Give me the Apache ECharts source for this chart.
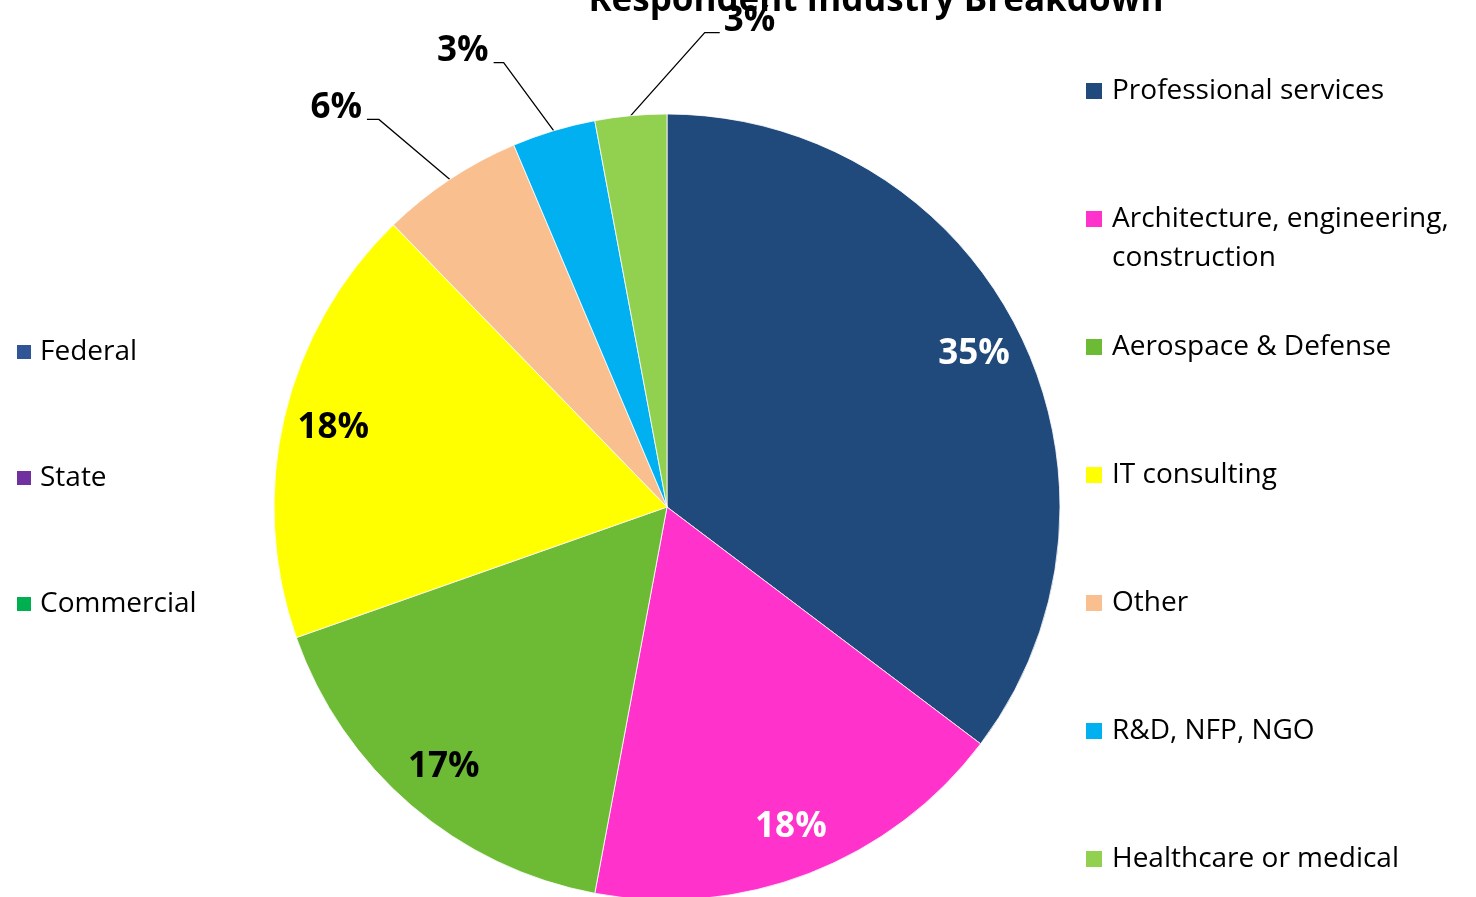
<!DOCTYPE html>
<html>
<head>
<meta charset="utf-8">
<title>Respondent Industry Breakdown</title>
<script src="https://cdn.jsdelivr.net/npm/echarts@6/dist/echarts.min.js"></script>
<style>
  html, body { margin: 0; padding: 0; background: #fff; }
  #chart { width: 1476px; height: 897px; }
</style>
</head>
<body>
<div id="chart"></div>
<script>
// industry breakdown (respondent counts)
var industries = ['Professional services', 'Architecture, engineering, construction', 'Aerospace & Defense',
  'IT consulting', 'Other', 'R&D, NFP, NGO', 'Healthcare or medical']
var counts = [72, 36, 34, 37, 12, 7, 6]
var industryColors = ['#214A7C', '#FF33CC', '#6DBB35', '#FFFF00', '#F9BF8F', '#00B0F0', '#92D050']
var insideLabelColors = ['#fff', '#fff', '#000', '#000', '#000', '#000', '#000']

// sector legend (second series, not drawn in the pie)
var sectors = ['Federal', 'State', 'Commercial']
var sectorColors = ['#2F5597', '#7030A0', '#00B050']

var total = counts.reduce(function (a, b) { return a + b }, 0)
var isBig = function (v) { return v / total >= 0.1 }
var pctLabel = function (p) { return Math.round(p.percent) + '%' }

var FONT = 'Open Sans'
var R = 393
var CENTER = [667, 507]
var ROW = 128
var LINE = 39

// leader line bends for the small slices, relative to where the leader leaves the pie:
// [elbow dx, elbow dy, horizontal run]
var leaderBends = { 4: [-71, -60, -12], 5: [-50, -68, -10], 6: [74, -83, 15] }

var myChart = echarts.init(document.getElementById('chart'))
var option = {
  animation: false,
  title: {
    text: 'Respondent Industry Breakdown',
    left: 871,
    top: -21,
    textAlign: 'center',
    textStyle: { fontFamily: FONT, fontSize: 35, fontWeight: 'bold', color: '#000' }
  },
  legend: [{
    orient: 'vertical',
    left: 1084,
    top: 91 - LINE * 1.5,
    height: 1000,
    padding: 0,
    itemWidth: 18,
    itemHeight: 18,
    itemGap: ROW - LINE * 3,
    icon: 'rect',
    data: industries,
    // three-line rows: the name sits on the middle line, next to the marker
    formatter: function (name) {
      if (name.indexOf('engineering, ') >= 0) return ' \n' + name.replace('engineering, ', 'engineering,\n')
      return ' \n' + name + '\n '
    },
    textStyle: { fontFamily: FONT, fontSize: 28, color: '#000', lineHeight: LINE, padding: [0, 0, 0, 4] }
  }, {
    orient: 'vertical',
    left: 17,
    top: 337,
    padding: 0,
    itemWidth: 14,
    itemHeight: 14,
    itemGap: 96,
    icon: 'rect',
    data: sectors,
    textStyle: { fontFamily: FONT, fontSize: 28, color: '#000', lineHeight: 30, padding: [0, 0, 0, 4] }
  }],
  series: [{
    name: 'Industry',
    type: 'pie',
    center: CENTER,
    radius: [0, R],
    startAngle: 90,
    avoidLabelOverlap: false,
    itemStyle: { borderColor: '#fff', borderWidth: 0.8 },
    label: {
      position: 'outside',
      formatter: pctLabel,
      fontFamily: FONT, fontSize: 35, fontWeight: 'bold', color: '#000'
    },
    labelLine: { length: 88, length2: 12, lineStyle: { color: '#000', width: 1.3 } },
    labelLayout: function (params) {
      var bend = leaderBends[params.dataIndex]
      if (params.seriesIndex !== 0 || !bend || !params.labelLinePoints) return
      var p0 = params.labelLinePoints[0]
      var p1 = [p0[0] + bend[0], p0[1] + bend[1]]
      var p2 = [p1[0] + bend[2], p1[1]]
      var right = bend[2] > 0
      return {
        x: p2[0] + (right ? 4 : -5),
        y: p2[1] + 6,
        align: right ? 'left' : 'right',
        verticalAlign: 'bottom',
        labelLinePoints: [p0, p1, p2]
      }
    },
    data: industries.map(function (n, i) {
      return {
        name: n, value: counts[i],
        itemStyle: { color: industryColors[i] },
        label: { show: !isBig(counts[i]) },
        labelLine: { show: !isBig(counts[i]) }
      }
    })
  }, {
    // transparent ring carrying the inside labels at ~0.86 R
    name: 'Industry labels',
    type: 'pie',
    center: CENTER,
    radius: [R * 0.73, R],
    startAngle: 90,
    silent: true,
    label: {
      position: 'inside',
      formatter: pctLabel,
      fontFamily: FONT, fontSize: 35, fontWeight: 'bold'
    },
    labelLine: { show: false },
    data: industries.map(function (n, i) {
      return {
        name: n, value: counts[i],
        itemStyle: { color: 'rgba(0,0,0,0)' },
        label: { show: isBig(counts[i]), color: insideLabelColors[i] }
      }
    })
  }, {
    name: 'Sector',
    type: 'pie',
    center: [-100, -100],
    radius: [0, 0],
    stillShowZeroSum: false,
    silent: true,
    label: { show: false },
    labelLine: { show: false },
    data: sectors.map(function (n, i) {
      return { name: n, value: 0, itemStyle: { color: sectorColors[i] } }
    })
  }]
}
option && myChart.setOption(option)
window.addEventListener('resize', myChart.resize)
</script>
</body>
</html>
